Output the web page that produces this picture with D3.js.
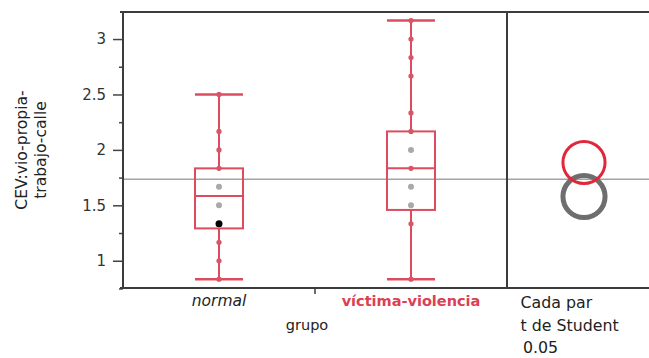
<!DOCTYPE html>
<html>
<head>
<meta charset="utf-8">
<script src="https://cdn.jsdelivr.net/npm/d3@7"></script>
<style>
  html, body { margin: 0; padding: 0; background: #fff; }
  svg { display: block; font-family: "DejaVu Sans", sans-serif; }
</style>
</head>
<body>
<svg id="chart" width="649" height="358"></svg>
<script>
// Groups along the x axis
const categories = ["normal", "víctima-violencia"];

// Distinct observed scores per group
const normalValues = [0.8333, 1.0, 1.1667, 1.3333, 1.5, 1.6667, 1.8333, 2.0, 2.1667, 2.5];
const victimValues = [0.8333, 1.3333, 1.5, 1.6667, 1.8333, 2.0, 2.1667, 2.3333, 2.6667, 2.8333, 3.0, 3.1667];

// Box-plot summaries, one entry per group
const whiskerLow  = [0.8333, 0.8333];
const quartile1   = [1.2917, 1.4583];
const medians     = [1.5833, 1.8333];
const quartile3   = [1.8333, 2.1667];
const whiskerHigh = [2.5, 3.1667];

// Highlighted observation (normal group)
const selectedValues = [1.3333];

// Comparison circles: group means and radii (data units)
const groupMeans   = [1.579, 1.886];
const circleRadius = [0.19, 0.19];
const grandMean = 1.735;

// Axis ticks
const majorTicks = [1, 1.5, 2, 2.5, 3];
const minorTicks = [0.75, 1.25, 1.75, 2.25, 2.75];
const yDomain = [0.754, 3.244];

const svg = d3.select("#chart");
const plotLeft = 123, plotRight = 649, plotTop = 12, plotBottom = 288, divider = 507;

const y = d3.scaleLinear().domain(yDomain).range([plotBottom, plotTop]);
const x = d3.scaleBand().domain(categories).range([plotLeft, divider]).padding(0);

const red = "#dc4c5e";
const boxW = 48;

// Grand mean reference line
svg.append("line")
  .attr("x1", plotLeft).attr("x2", plotRight)
  .attr("y1", y(grandMean)).attr("y2", y(grandMean))
  .attr("stroke", "#a4a4a4").attr("stroke-width", 1.5);

// Y axis: major ticks with labels, minor ticks without
const yAxis = svg.append("g").attr("transform", `translate(${plotLeft},0)`)
  .call(d3.axisLeft(y).tickValues(majorTicks).tickSize(10).tickPadding(7).tickFormat(d3.format("")));
yAxis.select(".domain").remove();
yAxis.selectAll(".tick line").attr("stroke", "#444").attr("stroke-width", 1.5);
yAxis.selectAll(".tick text").attr("font-size", 15).attr("fill", "#333").attr("font-family", "DejaVu Sans, sans-serif");

const yMinor = svg.append("g").attr("transform", `translate(${plotLeft},0)`)
  .call(d3.axisLeft(y).tickValues(minorTicks).tickSize(4).tickFormat(""));
yMinor.select(".domain").remove();
yMinor.selectAll(".tick line").attr("stroke", "#444").attr("stroke-width", 1.5);

// Y axis title (two lines, rotated)
const yTitle = svg.append("text")
  .attr("transform", "translate(0,150) rotate(-90)")
  .attr("text-anchor", "middle").attr("font-size", 15.6).attr("fill", "#222");
yTitle.append("tspan").attr("x", 0).attr("y", 27).text("CEV:vio-propia-");
yTitle.append("tspan").attr("x", 0).attr("y", 46).text("trabajo-calle");

// Box plots
const groups = categories.map((c, i) => ({
  cat: c,
  values: i === 0 ? normalValues : victimValues,
  lo: whiskerLow[i], q1: quartile1[i], med: medians[i], q3: quartile3[i], hi: whiskerHigh[i]
}));

const g = svg.selectAll("g.box").data(groups).enter().append("g").attr("class", "box")
  .attr("transform", d => `translate(${x(d.cat) + x.bandwidth() / 2},0)`);

// whisker stems
g.append("line").attr("x1", 0).attr("x2", 0)
  .attr("y1", d => y(d.hi)).attr("y2", d => y(d.q3))
  .attr("stroke", red).attr("stroke-width", 2);
g.append("line").attr("x1", 0).attr("x2", 0)
  .attr("y1", d => y(d.q1)).attr("y2", d => y(d.lo))
  .attr("stroke", red).attr("stroke-width", 2);
// whisker caps
["hi", "lo"].forEach(k => {
  g.append("line").attr("x1", -boxW / 2).attr("x2", boxW / 2)
    .attr("y1", d => y(d[k])).attr("y2", d => y(d[k]))
    .attr("stroke", red).attr("stroke-width", 2.5);
});
// box
g.append("rect").attr("x", -boxW / 2).attr("width", boxW)
  .attr("y", d => y(d.q3)).attr("height", d => y(d.q1) - y(d.q3))
  .attr("fill", "none").attr("stroke", red).attr("stroke-width", 2);
// median
g.append("line").attr("x1", -boxW / 2).attr("x2", boxW / 2)
  .attr("y1", d => y(d.med)).attr("y2", d => y(d.med))
  .attr("stroke", red).attr("stroke-width", 2);

// observations
g.each(function (d, i) {
  d3.select(this).selectAll("circle").data(d.values).enter().append("circle")
    .attr("cx", 0).attr("cy", v => y(v))
    .attr("r", v => (i === 0 && selectedValues.includes(v)) ? 3.5 : (v > d.q1 && v < d.q3 && v !== d.med ? 3 : 2.6))
    .attr("fill", v => {
      if (i === 0 && selectedValues.includes(v)) return "#000";
      if (v > d.q1 && v < d.q3 && v !== d.med) return "#a9a9a9";
      return "#d65666";
    });
});

// Frame
const frame = svg.append("g").attr("stroke", "#3c3c3c").attr("stroke-width", 2);
frame.append("line").attr("x1", plotLeft - 3).attr("x2", plotRight).attr("y1", plotTop).attr("y2", plotTop);
frame.append("line").attr("x1", plotLeft - 3).attr("x2", plotRight).attr("y1", plotBottom).attr("y2", plotBottom);
frame.append("line").attr("x1", plotLeft).attr("x2", plotLeft).attr("y1", plotTop).attr("y2", plotBottom);
frame.append("line").attr("x1", divider).attr("x2", divider).attr("y1", plotTop).attr("y2", plotBottom);
// group boundary tick
frame.append("line").attr("x1", x(categories[1])).attr("x2", x(categories[1]))
  .attr("y1", plotBottom).attr("y2", plotBottom + 6).attr("stroke-width", 1.5);

// X category labels
svg.selectAll("text.cat").data(categories).enter().append("text").attr("class", "cat")
  .attr("x", d => x(d) + x.bandwidth() / 2).attr("y", 306)
  .attr("text-anchor", "middle")
  .attr("font-size", (d, i) => i === 0 ? 15.5 : 14.5)
  .attr("font-style", (d, i) => i === 0 ? "italic" : "normal")
  .attr("font-weight", (d, i) => i === 0 ? "normal" : "bold")
  .attr("fill", (d, i) => i === 0 ? "#222" : "#dc4052")
  .text(d => d);

svg.append("text").attr("x", 307).attr("y", 330).attr("text-anchor", "middle")
  .attr("font-size", 14.5).attr("fill", "#222").text("grupo");

// Comparison circles panel
const cx = 584;
const rPx = r => y(0) - y(r);
const circleColors = ["#6e6e6e", "#e0283c"];
const circleWidths = [5, 3];
svg.selectAll("circle.cmp").data(groupMeans).enter().append("circle").attr("class", "cmp")
  .attr("cx", cx).attr("cy", d => y(d))
  .attr("r", (d, i) => rPx(circleRadius[i]))
  .attr("fill", "none")
  .attr("stroke", (d, i) => circleColors[i])
  .attr("stroke-width", (d, i) => circleWidths[i]);

const legendLines = ["Cada par", "t de Student", "0.05"];
svg.selectAll("text.leg").data(legendLines).enter().append("text").attr("class", "leg")
  .attr("x", (d, i) => i === 2 ? 523 : 520.5).attr("y", (d, i) => 308 + i * 22.5)
  .attr("font-size", 15.8).attr("fill", "#222").text(d => d);
</script>
</body>
</html>
